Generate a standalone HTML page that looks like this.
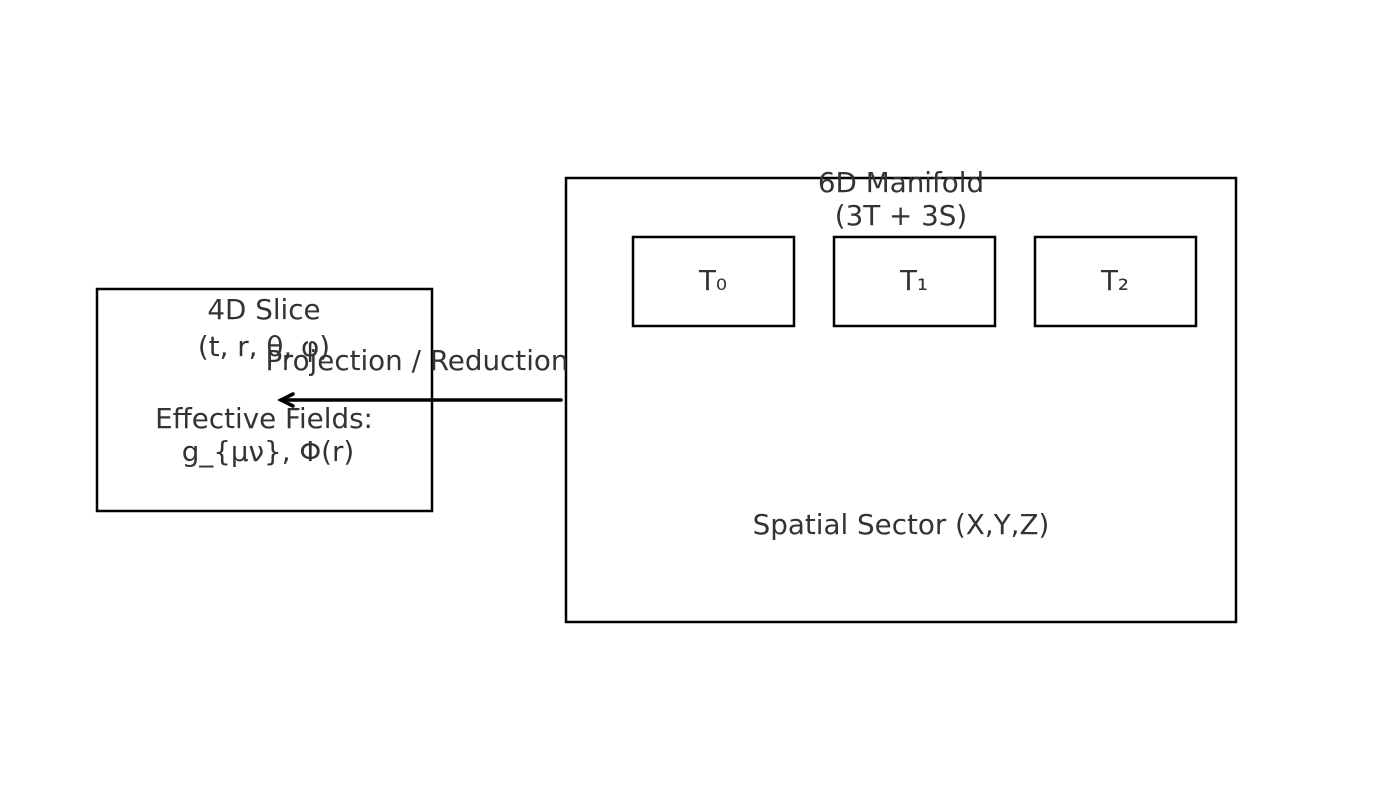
<!DOCTYPE html>
<html><head><meta charset="utf-8"><style>
html,body{margin:0;padding:0;background:#fff;}
svg{display:block;}
text{font-family:"DejaVu Sans","Liberation Sans",sans-serif;font-size:27.75px;fill:#333;text-anchor:middle;}
</style></head><body>
<svg width="1400" height="800" viewBox="0 0 1400 800">
<g fill="none" stroke="#000" stroke-width="2.5">
<rect x="97" y="289" width="335" height="222"/>
<rect x="566" y="178" width="670" height="444"/>
<rect x="633" y="237" width="161" height="89"/>
<rect x="834" y="237" width="161" height="89"/>
<rect x="1035" y="237" width="161" height="89"/>
</g>
<text x="901" y="192">6D Manifold</text>
<text x="901" y="225">(3T + 3S)</text>
<text x="713" y="290">T₀</text>
<text x="914" y="290">T₁</text>
<text x="1115" y="290">T₂</text>
<text x="901" y="534">Spatial Sector (X,Y,Z)</text>
<text x="264" y="319">4D Slice</text>
<text x="264" y="356">(t, r, θ, φ)</text>
<text x="264" y="428">Effective Fields:</text>
<text x="268" y="461">g_{μν}, Φ(r)</text>
<text x="417" y="370">Projection / Reduction</text>
<g stroke="#000" stroke-width="3.5" fill="none" stroke-linecap="round">
<line x1="561" y1="400" x2="281" y2="400"/>
<polyline points="293,394 281,400 293,406"/>
</g>
</svg>
</body></html>
